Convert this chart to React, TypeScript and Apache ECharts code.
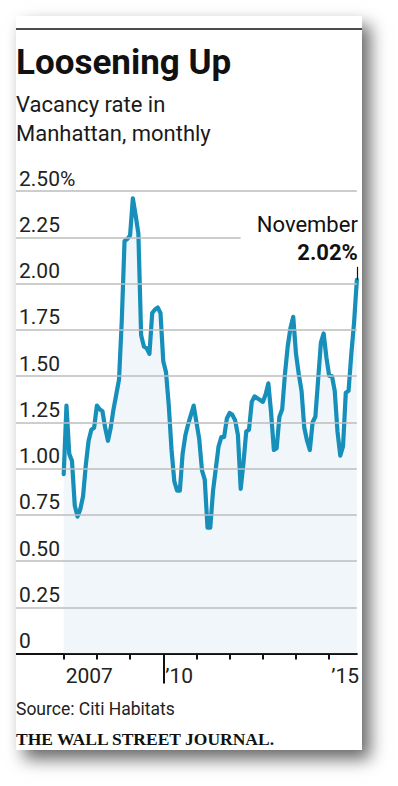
import React, { useEffect, useRef } from "react";
import * as echarts from "echarts";

// ---- data ----
const START_YEAR = 2007; // month index 0 = January 2007
const vacancyRate = [
  0.97, 1.34, 1.08, 1.04, 0.8, 0.74, 0.78, 0.85, 1.02, 1.15, 1.21, 1.22,
  1.34, 1.32, 1.31, 1.22, 1.15, 1.22, 1.32, 1.4, 1.48, 1.8, 2.23, 2.24,
  2.26, 2.46, 2.37, 2.27, 1.72, 1.66, 1.65, 1.62, 1.84, 1.86, 1.87, 1.84,
  1.58, 1.52, 1.34, 1.1, 0.93, 0.88, 0.88, 1.08, 1.18, 1.24, 1.29, 1.34,
  1.25, 1.16, 0.99, 0.94, 0.68, 0.68, 0.88, 1.0, 1.12, 1.17, 1.17, 1.27,
  1.3, 1.29, 1.26, 1.18, 0.89, 1.03, 1.2, 1.21, 1.36, 1.39, 1.38, 1.37,
  1.36, 1.4, 1.46, 1.3, 1.1, 1.11, 1.28, 1.32, 1.51, 1.66, 1.76, 1.82,
  1.62, 1.51, 1.42, 1.22, 1.15, 1.1, 1.25, 1.28, 1.48, 1.68, 1.73, 1.6,
  1.5, 1.5, 1.42, 1.2, 1.07, 1.12, 1.41, 1.42, 1.62, 1.79, 2.02,
];
const yTickValues = [0, 0.25, 0.5, 0.75, 1.0, 1.25, 1.5, 1.75, 2.0, 2.25, 2.5];
const yearTickMonths = [0, 12, 24, 36, 48, 60, 72, 84, 96];
const labeledYearMonths = [0, 36, 96];
const majorTickMonths = [36];
const lastMonthName = "November";

const TITLE = "Loosening Up";
const SUBTITLE = "Vacancy rate in\nManhattan, monthly";
const SOURCE = "Source: Citi Habitats";
const BRAND = "THE WALL STREET JOURNAL.";

const CARD_W = 346;
const CARD_H = 734;
const X_MIN = -17.25;
const SHORT_GRID_END = 64; // 2.25 gridline stops before the annotation

export default function App() {
  const ref = useRef<HTMLDivElement>(null);

  useEffect(() => {
    if (!ref.current) return;
    const chart = echarts.init(ref.current, null, { renderer: "svg" });
    const lastIdx = vacancyRate.length - 1;
    const lastVal = vacancyRate[lastIdx];
    const font = "Roboto, 'Noto Sans', sans-serif";

    const gridLines: any[] = yTickValues
      .filter((v) => v > 0 && v !== 2.25)
      .map((v) => ({ yAxis: v }));
    gridLines.push([{ coord: [X_MIN, 2.25] }, { coord: [SHORT_GRID_END, 2.25] }]);

    const yearLabel = (m: number) => {
      const y = START_YEAR + Math.round(m / 12);
      return y === START_YEAR ? String(y) : "\u2019" + String(y).slice(2);
    };

    chart.setOption({
      animation: false,
      grid: { left: 0, right: 3, top: 175, height: 462.5 },
      xAxis: [
        {
          type: "value",
          min: X_MIN,
          max: lastIdx,
          position: "bottom",
          splitLine: { show: false },
          axisLine: { show: true, lineStyle: { color: "#111", width: 2 } },
          axisTick: {
            show: true,
            customValues: yearTickMonths,
            length: 6,
            lineStyle: { color: "#111", width: 2 },
          },
          axisLabel: {
            show: true,
            customValues: labeledYearMonths,
            formatter: (v: number) => yearLabel(v),
            align: "left",
            margin: 12,
            padding: [0, 0, 0, 2],
            fontSize: 21,
            fontFamily: font,
            color: "#222",
          },
        },
        {
          type: "value",
          min: X_MIN,
          max: lastIdx,
          position: "bottom",
          offset: 0,
          splitLine: { show: false },
          axisLine: { show: false },
          axisTick: {
            show: true,
            customValues: majorTickMonths,
            length: 30,
            lineStyle: { color: "#111", width: 2 },
          },
          axisLabel: { show: false },
        },
      ],
      yAxis: {
        type: "value",
        min: 0,
        max: 2.5,
        interval: 0.25,
        axisLine: { show: false },
        axisTick: { show: false },
        splitLine: { show: false },
        axisLabel: {
          inside: true,
          margin: 3,
          align: "left",
          verticalAlign: "bottom",
          padding: [0, 0, 2, 0],
          fontSize: 21,
          fontFamily: font,
          color: "#222",
          formatter: (v: number) =>
            v === 0 ? "0" : v === 2.5 ? "2.50%" : v.toFixed(2),
        },
      },
      series: [
        {
          type: "line",
          data: [],
          z: 1,
          silent: true,
          markLine: {
            silent: true,
            symbol: "none",
            label: { show: false },
            lineStyle: { color: "#bdbdbd", width: 1.5, type: "solid" },
            data: gridLines,
          },
        },
        {
          type: "line",
          z: 3,
          data: vacancyRate.map((v, i) => [i, v]),
          showSymbol: false,
          lineStyle: { color: "#168fba", width: 4.2, join: "round", cap: "round" },
          areaStyle: { color: "rgba(185,212,226,0.3)", origin: "start" },
          markLine: {
            silent: true,
            symbol: "none",
            label: { show: false },
            lineStyle: { color: "#111", width: 1.2, type: "solid" },
            data: [[{ coord: [lastIdx, lastVal] }, { coord: [lastIdx, lastVal + 0.07] }]],
          },
          markPoint: {
            silent: true,
            symbol: "circle",
            symbolSize: 1,
            itemStyle: { color: "rgba(0,0,0,0)" },
            data: [{ coord: [lastIdx, lastVal] }],
            label: {
              show: true,
              position: [1.5, -12.5],
              align: "right",
              verticalAlign: "bottom",
              formatter: `{a|${lastMonthName}}\n{b|${lastVal.toFixed(2)}%}`,
              rich: {
                a: { fontSize: 22, lineHeight: 28, fontFamily: font, color: "#111", align: "right" },
                b: { fontSize: 22, lineHeight: 28, fontFamily: font, fontWeight: "bold", color: "#111", align: "right" },
              },
            },
          },
        },
      ],
      graphic: [
        {
          type: "line",
          shape: { x1: 0, y1: 13, x2: CARD_W, y2: 13 },
          style: { stroke: "#111", lineWidth: 1.5 },
        },
        {
          type: "text",
          x: 0,
          y: 46.5,
          style: {
            text: TITLE,
            fontSize: 35,
            fontWeight: "bold",
            fontFamily: font,
            fill: "#111",
            verticalAlign: "middle",
          },
        },
        {
          type: "text",
          x: 0,
          y: 74.2,
          style: {
            text: SUBTITLE,
            fontSize: 22,
            lineHeight: 29,
            fontFamily: font,
            fill: "#1a1a1a",
            verticalAlign: "top",
          },
        },
        {
          type: "text",
          x: 0,
          y: 692.5,
          style: {
            text: SOURCE,
            fontSize: 17.5,
            fontFamily: font,
            fill: "#222",
            verticalAlign: "middle",
          },
        },
        {
          type: "text",
          x: 0,
          y: 722.5,
          style: {
            text: BRAND,
            fontSize: 17.5,
            fontWeight: "bold",
            fontFamily: "'Liberation Serif', 'DejaVu Serif', serif",
            fill: "#111",
            verticalAlign: "middle",
          },
        },
      ],
    });

    return () => chart.dispose();
  }, []);

  return (
    <div style={{ position: "absolute", left: 0, top: 0, width: 398, height: 786, background: "#fff", overflow: "hidden" }}>
      <div
        style={{
          position: "absolute",
          left: 16,
          top: 16,
          width: CARD_W,
          height: CARD_H,
          background: "#fff",
          boxShadow: "8px 9px 16px rgba(0,0,0,0.6)",
        }}
      >
        <div ref={ref} style={{ width: CARD_W, height: CARD_H }} />
      </div>
    </div>
  );
}
